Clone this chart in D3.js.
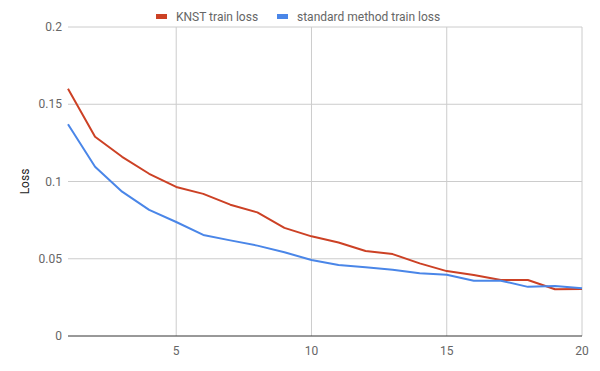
<!DOCTYPE html>
<html>
<head>
<meta charset="utf-8">
<script src="https://cdn.jsdelivr.net/npm/d3@7"></script>
<style>
  body { margin: 0; background: #fff; }
  text { font-family: Roboto, Arial, sans-serif; }
</style>
</head>
<body>
<div id="chart"></div>
<script>
const epochs = d3.range(1, 21);
const knstLoss = [0.160, 0.129, 0.116, 0.105, 0.0965, 0.092, 0.085, 0.080, 0.070, 0.0645,
  0.0605, 0.055, 0.053, 0.047, 0.042, 0.0395, 0.0362, 0.0362, 0.0303, 0.0305];
const standardLoss = [0.137, 0.1096, 0.0934, 0.0816, 0.0738, 0.0654, 0.0619, 0.0585, 0.0542, 0.0492,
  0.046, 0.0445, 0.0429, 0.0406, 0.0396, 0.0357, 0.0358, 0.0318, 0.0324, 0.0309];
const xTicks = [5, 10, 15, 20];
const yTicks = [0, 0.05, 0.1, 0.15, 0.2];
const seriesNames = ['KNST train loss', 'standard method train loss'];
const colors = ['#cc4125', '#4a86e8'];

let width = 600;
let height = 371;
let margin = {top: 27, right: 18, bottom: 35, left: 68};

let svg = d3.select('#chart')
  .append('svg')
  .attr('width', width)
  .attr('height', height);

let x = d3.scaleLinear().domain([1, 20]).range([margin.left, width - margin.right]);
let y = d3.scaleLinear().domain([0, 0.2]).range([height - margin.bottom, margin.top]);

// horizontal gridlines
svg.append('g')
  .selectAll('line')
  .data(yTicks.filter(d => d > 0))
  .enter()
  .append('line')
  .attr('x1', x(1)).attr('x2', x(20))
  .attr('y1', d => y(d)).attr('y2', d => y(d))
  .attr('stroke', '#ccc');

// vertical gridlines
svg.append('g')
  .selectAll('line')
  .data(xTicks)
  .enter()
  .append('line')
  .attr('x1', d => x(d)).attr('x2', d => x(d))
  .attr('y1', y(0)).attr('y2', y(0.2))
  .attr('stroke', '#ccc');

// y tick labels
svg.append('g')
  .selectAll('text')
  .data(yTicks)
  .enter()
  .append('text')
  .attr('x', margin.left - 6)
  .attr('y', d => y(d) + 4)
  .attr('text-anchor', 'end')
  .attr('font-size', 12)
  .attr('fill', '#666')
  .text(d => d3.format('~g')(d));

// x tick labels
svg.append('g')
  .selectAll('text')
  .data(xTicks)
  .enter()
  .append('text')
  .attr('x', d => x(d))
  .attr('y', y(0) + 19)
  .attr('text-anchor', 'middle')
  .attr('font-size', 12)
  .attr('fill', '#666')
  .text(d => d);

// baseline
svg.append('line')
  .attr('x1', x(1)).attr('x2', x(20))
  .attr('y1', y(0)).attr('y2', y(0))
  .attr('stroke', '#333');

// axis title
svg.append('text')
  .attr('transform', `translate(29,${(y(0) + y(0.2)) / 2}) rotate(-90)`)
  .attr('text-anchor', 'middle')
  .attr('font-size', 12)
  .attr('fill', '#222')
  .text('Loss');

let line = d3.line()
  .x((d, i) => x(epochs[i]))
  .y(d => y(d));

[knstLoss, standardLoss].forEach((vals, i) => {
  svg.append('path')
    .datum(vals)
    .attr('d', line)
    .attr('fill', 'none')
    .attr('stroke', colors[i])
    .attr('stroke-width', 2)
    .attr('stroke-linejoin', 'round');
});

// legend
let legendX = [156, 277];
let legend = svg.append('g')
  .selectAll('g')
  .data(seriesNames)
  .enter()
  .append('g')
  .attr('transform', (d, i) => `translate(${legendX[i]},17)`);

legend.append('rect')
  .attr('x', 0).attr('y', -3)
  .attr('width', 11).attr('height', 5)
  .attr('fill', (d, i) => colors[i]);

legend.append('text')
  .attr('x', 20)
  .attr('y', 4)
  .attr('font-size', 12)
  .attr('fill', '#666')
  .text(d => d);
</script>
</body>
</html>
